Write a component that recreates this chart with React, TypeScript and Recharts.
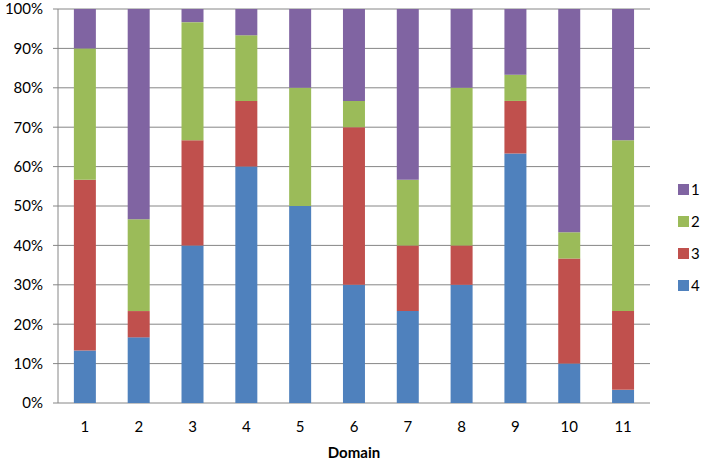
import React from "react";
import { BarChart, Bar, XAxis, YAxis, CartesianGrid } from "recharts";

const domains = ["1", "2", "3", "4", "5", "6", "7", "8", "9", "10", "11"];
const s4 = [4, 5, 12, 18, 15, 9, 7, 9, 19, 3, 1];
const s3 = [13, 2, 8, 5, 0, 12, 5, 3, 4, 8, 6];
const s2 = [10, 7, 9, 5, 9, 2, 5, 12, 2, 2, 13];
const s1 = [3, 16, 1, 2, 6, 7, 13, 6, 5, 17, 10];
const yTicks = [0, 0.1, 0.2, 0.3, 0.4, 0.5, 0.6, 0.7, 0.8, 0.9, 1];
const boundaryTicks = [0.5, 1.5, 2.5, 3.5, 4.5, 5.5, 6.5, 7.5, 8.5, 9.5, 10.5, 11.5];

const COLORS: Record<string, string> = {
  "1": "#8064A2",
  "2": "#9BBB59",
  "3": "#C0504D",
  "4": "#4F81BD",
};
const legendOrder = ["1", "2", "3", "4"];

const data = domains.map((d, i) => ({
  domain: d,
  "4": s4[i],
  "3": s3[i],
  "2": s2[i],
  "1": s1[i],
}));

const FONT = "Lato, 'Open Sans', sans-serif";
const AXIS = "#868686";

const LegendBox = () => (
  <div style={{ position: "absolute", left: 678, top: 173, fontFamily: FONT, fontSize: 15, color: "#000" }}>
    {legendOrder.map((k) => (
      <div key={k} style={{ display: "flex", alignItems: "center", height: 32 }}>
        <span style={{ width: 11, height: 11, background: COLORS[k], display: "inline-block", marginRight: 2 }} />
        <span>{k}</span>
      </div>
    ))}
  </div>
);

export default function App() {
  return (
    <div style={{ position: "absolute", left: 0, top: 0, width: 706, height: 462, background: "#fff" }}>
      <BarChart
        width={706}
        height={462}
        data={data}
        stackOffset="expand"
        barCategoryGap="29.5%"
        margin={{ top: 9, right: 56, left: 0, bottom: 0 }}
        style={{ fontFamily: FONT }}
      >
        <CartesianGrid vertical={false} stroke={AXIS} strokeWidth={1} />
        <XAxis
          xAxisId="b"
          type="number"
          domain={[0.5, 11.5]}
          ticks={boundaryTicks}
          tickFormatter={() => ""}
          height={0}
          tickSize={5}
          stroke={AXIS}
          axisLine={{ stroke: AXIS }}
          tickLine={{ stroke: AXIS }}
          allowDataOverflow
        />
        <XAxis
          dataKey="domain"
          height={59}
          axisLine={false}
          tickLine={false}
          tickSize={5}
          tickMargin={13}
          interval={0}
          tick={{ fill: "#000", fontSize: 15, fontFamily: FONT }}
          label={{ value: "Domain", position: "insideBottom", offset: 4, fill: "#000", fontSize: 15, fontWeight: "bold", fontFamily: FONT }}
        />
        <YAxis
          width={58}
          domain={[0, 1]}
          ticks={yTicks}
          tickFormatter={(v: number) => `${Math.round(v * 100)}%`}
          tickSize={5}
          tickMargin={10}
          axisLine={{ stroke: AXIS }}
          tickLine={{ stroke: AXIS }}
          tick={{ fill: "#000", fontSize: 15, fontFamily: FONT }}
        />
        <Bar dataKey="4" stackId="a" fill={COLORS["4"]} isAnimationActive={false} />
        <Bar dataKey="3" stackId="a" fill={COLORS["3"]} isAnimationActive={false} />
        <Bar dataKey="2" stackId="a" fill={COLORS["2"]} isAnimationActive={false} />
        <Bar dataKey="1" stackId="a" fill={COLORS["1"]} isAnimationActive={false} />
      </BarChart>
      <LegendBox />
    </div>
  );
}
